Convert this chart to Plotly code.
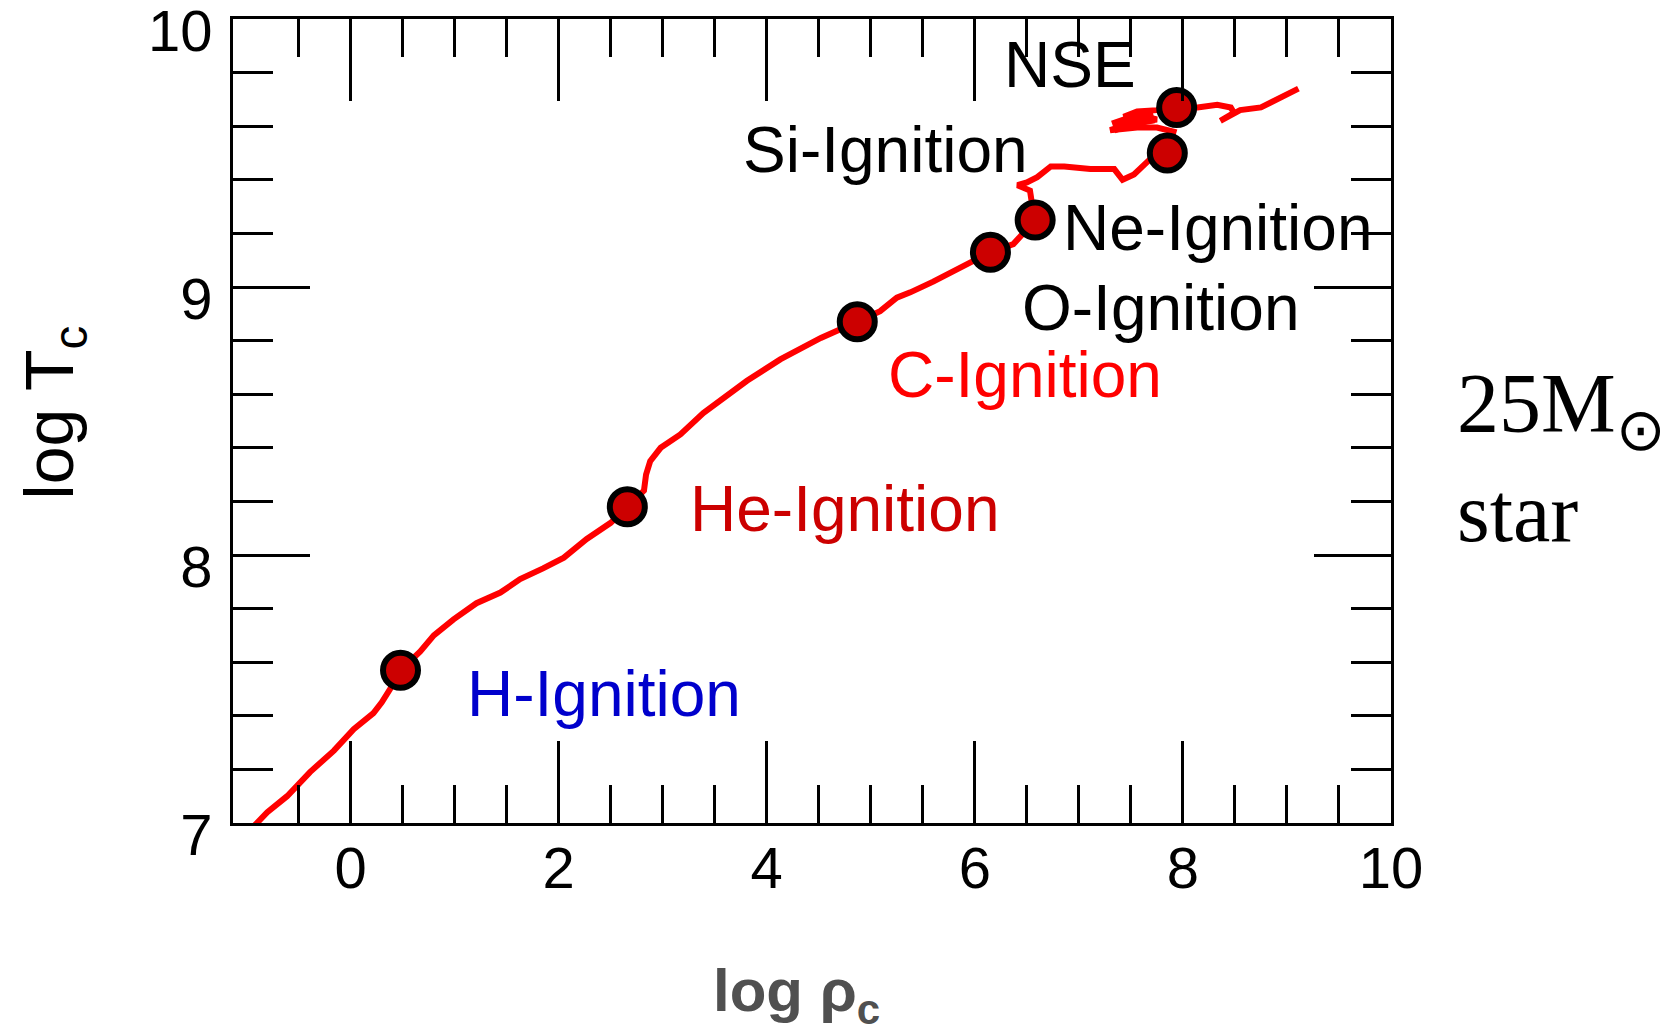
import plotly.graph_objects as go

# Evolution track of the stellar core: log(central density) vs log(central temperature)
track_rho = [-0.95, -0.80, -0.61, -0.39, -0.16, 0.03, 0.22, 0.30, 0.38, 0.48,
             0.67, 0.80, 0.99, 1.21, 1.44, 1.63, 1.85, 2.05, 2.27, 2.50,
             2.66, 2.82, 2.84, 2.88, 2.98, 3.17, 3.39, 3.59, 3.81, 4.13,
             4.45, 4.52, 4.87, 5.09, 5.25, 5.38, 5.60, 5.86, 6.15, 6.37,
             6.58, 6.55, 6.53, 6.41, 6.50, 6.60, 6.73, 6.86, 7.11, 7.34,
             7.42, 7.53, 7.64, 7.72, 7.85, 7.91, 7.75, 7.56, 7.30, 7.50,
             7.75, 7.60, 7.43, 7.56, 7.75, 7.94, 8.14, 8.33, 8.46, 8.49,
             8.36, 8.55, 8.75, 8.97, 9.11]
track_T = [6.98, 7.04, 7.10, 7.19, 7.27, 7.35, 7.41, 7.45, 7.50, 7.57,
           7.64, 7.70, 7.76, 7.82, 7.86, 7.91, 7.95, 7.99, 8.06, 8.12,
           8.18, 8.24, 8.30, 8.35, 8.40, 8.45, 8.53, 8.59, 8.65, 8.73,
           8.80, 8.81, 8.87, 8.91, 8.96, 8.98, 9.02, 9.07, 9.13, 9.16,
           9.25, 9.31, 9.36, 9.38, 9.39, 9.41, 9.45, 9.45, 9.44, 9.44,
           9.40, 9.42, 9.46, 9.49, 9.50, 9.58, 9.595, 9.595, 9.585, 9.61,
           9.625, 9.64, 9.635, 9.655, 9.66, 9.67, 9.67, 9.68, 9.67, 9.65,
           9.62, 9.66, 9.67, 9.71, 9.74]

# Dense back-and-forth part of the track just below the NSE point
wedge_rho = [7.33, 7.50, 7.72]
wedge_T = [9.597, 9.62, 9.635]

# Ignition points along the track
ignition_rho = [0.48, 2.66, 4.87, 6.15, 6.58, 7.85, 7.94]
ignition_T = [7.57, 8.18, 8.87, 9.13, 9.25, 9.50, 9.67]

# Burning-stage labels: text, left x, centre y, colour
stage_text = ["NSE", "Si-Ignition", "Ne-Ignition", "O-Ignition",
              "C-Ignition", "He-Ignition", "H-Ignition"]
stage_x = [6.26, 3.75, 6.83, 6.43, 5.15, 3.24, 1.10]
stage_y = [9.83, 9.51, 9.22, 8.92, 8.67, 8.17, 7.48]
stage_color = ["black", "black", "black", "black", "#ff0000", "#cc0000", "#0000cc"]

x_major_ticks = [0, 2, 4, 6, 8, 10]
x_minor_ticks = [-0.5, 0.5, 1, 1.5, 2.5, 3, 3.5, 4.5, 5, 5.5,
                 6.5, 7, 7.5, 8.5, 9, 9.5]
y_major_ticks = [7, 8, 9, 10]
y_minor_ticks = [7.2, 7.4, 7.6, 7.8, 8.2, 8.4, 8.6, 8.8,
                 9.2, 9.4, 9.6, 9.8]

SANS = "Liberation Sans, Arial, Helvetica, sans-serif"
SERIF = "Liberation Serif, Times New Roman, serif"

fig = go.Figure()
fig.add_trace(go.Scatter(
    x=track_rho, y=track_T, mode="lines",
    line=dict(color="#ff0000", width=6), hoverinfo="skip", showlegend=False))
fig.add_trace(go.Scatter(
    x=wedge_rho, y=wedge_T, mode="lines",
    line=dict(color="#ff0000", width=13), hoverinfo="skip", showlegend=False))
fig.add_trace(go.Scatter(
    x=ignition_rho, y=ignition_T, mode="markers",
    marker=dict(size=35, color="#cc0000", line=dict(color="black", width=6)),
    showlegend=False))

for t, x, y, c in zip(stage_text, stage_x, stage_y, stage_color):
    fig.add_annotation(x=x, y=y, text=t, showarrow=False, xanchor="left",
                       yanchor="middle", font=dict(family=SANS, size=64, color=c))

# Axis titles
fig.add_annotation(xref="paper", yref="paper", x=-0.155, y=0.51,
                   text="log T<sub>c</sub>", textangle=-90, showarrow=False,
                   xanchor="center", yanchor="middle",
                   font=dict(family=SANS, size=68, color="black"))
fig.add_annotation(xref="paper", yref="paper", x=0.487, y=-0.214,
                   text="<b>log ρ<sub>c</sub></b>", showarrow=False,
                   xanchor="center", yanchor="middle",
                   font=dict(family=SANS, size=60, color="#505050"))

# Star mass note
fig.add_annotation(xref="paper", yref="paper", x=1.055, y=0.5137,
                   text="25M<sub>⊙</sub>", showarrow=False, xanchor="left",
                   yanchor="middle", font=dict(family=SERIF, size=84, color="black"))
fig.add_annotation(xref="paper", yref="paper", x=1.055, y=0.3868,
                   text="star", showarrow=False, xanchor="left",
                   yanchor="middle", font=dict(family=SERIF, size=84, color="black"))

axis_common = dict(
    ticks="inside", tickwidth=2.5, tickcolor="black",
    showline=True, linewidth=3, linecolor="black", mirror="ticks",
    showgrid=False, zeroline=False, ticklabeloverflow="allow",
    automargin=False,
    tickfont=dict(family=SANS, size=58, color="black"),
)

fig.update_xaxes(range=[-1.13, 10], tickmode="array", tickvals=x_major_ticks,
                 ticklen=82, ticklabelstandoff=-8,
                 minor=dict(tickmode="array", tickvals=x_minor_ticks, ticks="inside",
                            ticklen=38, tickwidth=2.5, tickcolor="black", showgrid=False),
                 **axis_common)
fig.update_yaxes(range=[7, 10], tickmode="array", tickvals=y_major_ticks,
                 ticklen=77, ticklabelstandoff=6, ticklabelshift=12,
                 minor=dict(tickmode="array", tickvals=y_minor_ticks, ticks="inside",
                            ticklen=40, tickwidth=2.5, tickcolor="black", showgrid=False),
                 **axis_common)

fig.update_layout(
    width=1675, height=1032,
    margin=dict(l=233, r=284, t=19, b=209, autoexpand=False),
    paper_bgcolor="white", plot_bgcolor="white",
    showlegend=False,
)

fig.write_html("out.html")
